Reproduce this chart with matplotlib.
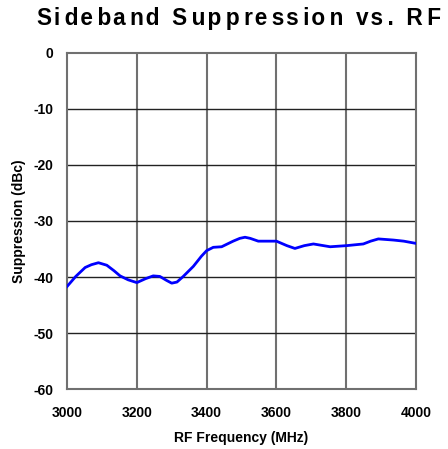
import matplotlib
matplotlib.use("Agg")
import matplotlib.pyplot as plt

freq = [3000, 3025, 3052, 3070, 3090, 3114, 3135, 3152, 3175, 3200, 3225, 3247,
        3266, 3285, 3300, 3315, 3333, 3362, 3385, 3400, 3419, 3443, 3476, 3495,
        3510, 3525, 3548, 3600, 3630, 3653, 3680, 3706, 3754, 3801, 3849, 3870,
        3892, 3935, 3965, 4000]
supp = [-41.7, -39.9, -38.3, -37.8, -37.45, -37.9, -38.9, -39.8, -40.5, -41.0,
        -40.3, -39.8, -39.9, -40.6, -41.1, -40.9, -39.9, -38.1, -36.3, -35.3,
        -34.7, -34.6, -33.6, -33.1, -32.9, -33.1, -33.6, -33.6, -34.4, -34.9,
        -34.4, -34.1, -34.6, -34.4, -34.1, -33.6, -33.2, -33.4, -33.6, -34.0]
xticks = [3000, 3200, 3400, 3600, 3800, 4000]
yticks = [0, -10, -20, -30, -40, -50, -60]
title = "Sideband Suppression vs. RF"

plt.rcParams['font.family'] = ['Liberation Sans', 'DejaVu Sans']
fig = plt.figure(figsize=(4.48, 4.49), dpi=100)
ax = fig.add_axes([0.1496, 0.1336, 0.7790, 0.7484])

ax.plot(freq, supp, color='#0000ff', lw=2.0, zorder=3)
ax.set_xlim(3000, 4000)
ax.set_ylim(-60, 0)
ax.set_xticks(xticks)
ax.set_yticks(yticks)
ax.set_xticklabels([str(v) for v in xticks], fontweight='bold', fontsize=10)
ax.set_yticklabels([str(v) for v in yticks], fontweight='bold', fontsize=10)
ax.tick_params(axis='both', length=0)
ax.tick_params(axis='y', pad=10)
ax.tick_params(axis='x', pad=12)

for v in xticks[1:-1]:
    ax.axvline(v, color='#707070', lw=1.5, zorder=1)
for v in yticks[1:-1]:
    ax.axhline(v, color='#222222', lw=1.0, zorder=1)
for s in ax.spines.values():
    s.set_color('#707070')
    s.set_linewidth(1.5)

ax.set_xlabel('RF Frequency (MHz)', fontweight='bold', fontsize=10, labelpad=8)
ax.set_ylabel('Suppression (dBc)', fontweight='bold', fontsize=10, labelpad=5)

# Title with letter spacing fitted to the reference width
target_w = 404.0
renderer = fig.canvas.get_renderer()
t = fig.text(37 / 448, 0.959, title, ha='left', va='center',
             fontweight='bold', fontsize=16.3)
n = len(title) - 1
best = None
for k in range(n + 1):
    parts = [title[0]]
    for i in range(n):
        thin = (i + 1) * k // n > i * k // n
        parts.append("\u2009" if thin else "\u200a")
        parts.append(title[i + 1])
    s = "".join(parts)
    t.set_text(s)
    w = t.get_window_extent(renderer).width
    if best is None or abs(w - target_w) < best[0]:
        best = (abs(w - target_w), s)
t.set_text(best[1])

fig.savefig('out.png', dpi=100)
